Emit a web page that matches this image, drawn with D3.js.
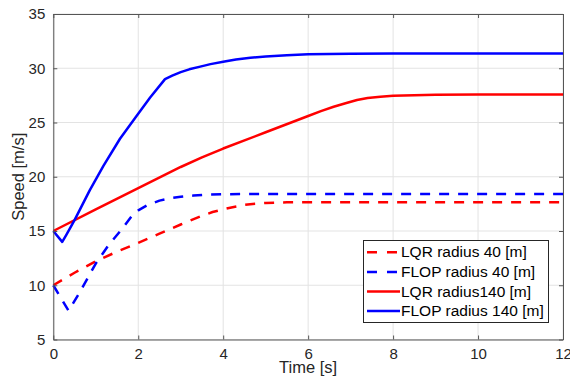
<!DOCTYPE html>
<html>
<head>
<meta charset="utf-8">
<script src="https://cdn.jsdelivr.net/npm/d3@7"></script>
<style>
  body { margin: 0; background: #fff; }
  svg { display: block; font-family: 'Liberation Sans', Arial, sans-serif; }
</style>
</head>
<body>
<div id="chart"></div>
<script>
// series data (time in s, speed in m/s)
const lqr40T = [0, 0.5, 1, 1.5, 2, 2.5, 3, 3.5, 3.75, 4, 4.25, 4.5, 4.75, 5, 5.5, 6, 8, 10, 12]
const lqr40V = [10, 11.15, 12.2, 13.1, 13.9, 14.75, 15.6, 16.4, 16.75, 17.0, 17.22, 17.4, 17.52, 17.58, 17.64, 17.65, 17.65, 17.65, 17.65]

const flop40T = [0, 0.36, 0.6, 1.0, 1.3, 1.6, 1.85, 2.0, 2.2, 2.5, 2.8, 3, 3.3, 3.6, 4, 4.5, 5, 6, 12]
const flop40V = [10, 7.65, 9.2, 12.0, 13.7, 15.1, 16.4, 16.9, 17.35, 17.8, 18.05, 18.15, 18.27, 18.34, 18.39, 18.41, 18.42, 18.42, 18.42]

const lqr140T = [0, 1, 2, 3, 3.5, 4, 5, 6, 6.3, 6.6, 6.9, 7.15, 7.4, 7.7, 8, 8.5, 9, 10, 12]
const lqr140V = [15, 17.0, 18.95, 20.9, 21.78, 22.6, 24.1, 25.6, 26.05, 26.45, 26.8, 27.07, 27.25, 27.38, 27.46, 27.52, 27.55, 27.58, 27.58]

const flop140T = [0, 0.21, 0.3, 0.5, 0.86, 1.18, 1.57, 1.96, 2.28, 2.63, 2.8, 3, 3.2, 3.46, 3.7, 4, 4.3, 4.64, 5, 5.5, 6, 6.5, 7, 8, 12]
const flop140V = [15, 14.0, 14.6, 16.0, 18.77, 21.0, 23.5, 25.6, 27.3, 29.0, 29.32, 29.64, 29.9, 30.15, 30.38, 30.6, 30.8, 30.97, 31.08, 31.2, 31.28, 31.31, 31.33, 31.35, 31.35]

const seriesNames = ['LQR radius 40 [m]', 'FLOP radius 40 [m]', 'LQR radius140 [m]', 'FLOP radius 140 [m]']
const seriesColors = ['#ff0000', '#0000ff', '#ff0000', '#0000ff']
const seriesDashed = [true, true, false, false]

const xTicks = [0, 2, 4, 6, 8, 10, 12]
const yTicks = [5, 10, 15, 20, 25, 30, 35]

const width = 570
const height = 380
const margin = { top: 14, right: 7, bottom: 40.5, left: 53.3 }
const axisColor = '#262626'

const series = [
  { t: lqr40T, v: lqr40V },
  { t: flop40T, v: flop40V },
  { t: lqr140T, v: lqr140V },
  { t: flop140T, v: flop140V }
].map((s, i) => ({
  name: seriesNames[i],
  color: seriesColors[i],
  dashed: seriesDashed[i],
  points: s.t.map((t, j) => ({ t, v: s.v[j] }))
}))

const svg = d3.select('#chart')
  .append('svg')
  .attr('width', width)
  .attr('height', height)

const x = d3.scaleLinear()
  .domain([0, 12])
  .range([margin.left, width - margin.right])

const y = d3.scaleLinear()
  .domain([5, 35])
  .range([height - margin.bottom, margin.top])

// grid
const grid = svg.append('g')
grid.selectAll('.gx')
  .data(xTicks)
  .join('line')
  .attr('x1', d => x(d)).attr('x2', d => x(d))
  .attr('y1', y(5)).attr('y2', y(35))
  .attr('stroke', '#e3e3e3')
  .attr('stroke-width', 1)
grid.selectAll('.gy')
  .data(yTicks)
  .join('line')
  .attr('x1', x(0)).attr('x2', x(12))
  .attr('y1', d => y(d)).attr('y2', d => y(d))
  .attr('stroke', '#e3e3e3')
  .attr('stroke-width', 1)

// lines
const line = d3.line()
  .x(d => x(d.t))
  .y(d => y(d.v))

const plot = svg.append('g')
plot.selectAll('path')
  .data(series)
  .join('path')
  .attr('d', d => line(d.points))
  .attr('fill', 'none')
  .attr('stroke', d => d.color)
  .attr('stroke-width', 2.5)
  .attr('stroke-linejoin', 'round')
  .attr('stroke-dasharray', d => d.dashed ? '10,9' : null)

// axes (ticks inward, on all four sides)
const tickLen = 4
const xAxis = g => g
  .attr('transform', `translate(0,${y(5)})`)
  .call(d3.axisBottom(x).tickValues(xTicks).tickSizeInner(-tickLen).tickSizeOuter(0).tickPadding(9))
const xAxisTop = g => g
  .attr('transform', `translate(0,${y(35)})`)
  .call(d3.axisTop(x).tickValues(xTicks).tickSizeInner(-tickLen).tickSizeOuter(0).tickFormat(''))
const yAxis = g => g
  .attr('transform', `translate(${x(0)},0)`)
  .call(d3.axisLeft(y).tickValues(yTicks).tickSizeInner(-tickLen).tickSizeOuter(0).tickPadding(8))
const yAxisRight = g => g
  .attr('transform', `translate(${x(12)},0)`)
  .call(d3.axisRight(y).tickValues(yTicks).tickSizeInner(-tickLen).tickSizeOuter(0).tickFormat(''))

svg.append('g').call(xAxis)
svg.append('g').call(xAxisTop)
svg.append('g').call(yAxis)
svg.append('g').call(yAxisRight)

svg.selectAll('.domain').attr('stroke', '#555').attr('stroke-width', 1)
svg.selectAll('.tick line').attr('stroke', '#555')
svg.selectAll('.tick text')
  .attr('fill', axisColor)
  .style('font-size', '15px')
  .style('font-family', "'Liberation Sans', Arial, sans-serif")

// axis labels
svg.append('text')
  .attr('x', (x(0) + x(12)) / 2)
  .attr('y', 372.5)
  .attr('text-anchor', 'middle')
  .attr('fill', axisColor)
  .style('font-size', '16.5px')
  .text('Time [s]')

svg.append('text')
  .attr('text-anchor', 'middle')
  .attr('transform', `translate(24, ${(y(5) + y(35)) / 2}) rotate(-90)`)
  .attr('fill', axisColor)
  .style('font-size', '16.5px')
  .text('Speed [m/s]')

// legend
const legend = svg.append('g')
legend.append('rect')
  .attr('x', 363.5)
  .attr('y', 240.5)
  .attr('width', 185)
  .attr('height', 82)
  .attr('fill', '#fff')
  .attr('stroke', axisColor)
  .attr('stroke-width', 1)

const rows = legend.selectAll('.row')
  .data(series)
  .join('g')
  .attr('transform', (d, i) => `translate(0, ${257.3 + i * 19.6})`)

rows.append('line')
  .attr('x1', 367).attr('x2', 400)
  .attr('y1', -5).attr('y2', -5)
  .attr('stroke', d => d.color)
  .attr('stroke-width', 2.5)
  .attr('stroke-dasharray', d => d.dashed ? '10,10' : null)

rows.append('text')
  .attr('x', 401)
  .attr('y', 0)
  .attr('fill', '#000')
  .style('font-size', '15.5px')
  .text(d => d.name)
</script>
</body>
</html>
